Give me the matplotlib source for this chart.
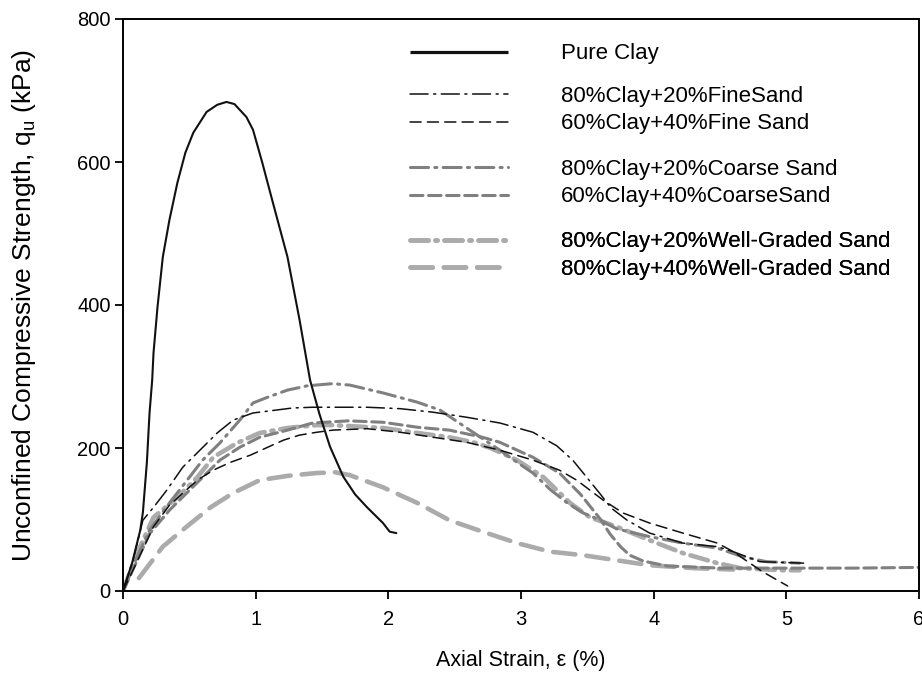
import matplotlib
matplotlib.use("Agg")
import matplotlib.pyplot as plt
from matplotlib.lines import Line2D

plt.rcParams["font.family"] = ["Liberation Sans", "DejaVu Sans"]
plt.rcParams["mathtext.default"] = "regular"
plt.rcParams["lines.scale_dashes"] = False

# --- stress-strain curves (strain %, q_u kPa) ---
pure_clay_x = [0, 0.07, 0.13, 0.15, 0.18, 0.2, 0.22, 0.23, 0.26, 0.3, 0.35, 0.41, 0.47,
               0.53, 0.63, 0.71, 0.78, 0.84, 0.93, 0.98, 1.05, 1.13, 1.24, 1.33, 1.41,
               1.48, 1.56, 1.66, 1.75, 1.84, 1.96, 2.01, 2.06]
pure_clay_y = [0, 40, 85, 110, 180, 249, 295, 333, 397, 467, 519, 571, 613,
               641, 670, 680, 684, 681, 663, 645, 599, 543, 467, 380, 295,
               248, 202, 160, 135, 117, 95, 83, 81]

fine20_x = [0, 0.075, 0.15, 0.23, 0.33, 0.45, 0.58, 0.71, 0.83, 0.98, 1.11, 1.28, 1.43,
            1.58, 1.84, 2.09, 2.34, 2.59, 2.84, 3.09, 3.27, 3.39, 3.5, 3.6, 3.68, 3.8,
            3.97, 4.22, 4.48, 4.6, 4.8, 5.13]
fine20_y = [0, 43, 99, 117, 141, 173, 197, 221, 239, 249, 252, 256, 257,
            257, 257, 255, 250, 243, 235, 222, 203, 183, 158, 135, 116, 99,
            81, 67, 62, 55, 41, 39]

fine40_x = [0, 0.075, 0.23, 0.35, 0.56, 0.68, 0.81, 0.96, 1.09, 1.21, 1.33, 1.46, 1.58,
            1.84, 2.09, 2.34, 2.59, 2.84, 3.09, 3.29, 3.42, 3.62, 3.77, 3.97, 4.22, 4.48,
            4.6, 4.67, 4.82, 5.01]
fine40_y = [0, 29, 90, 120, 155, 169, 180, 190, 201, 211, 218, 222, 225,
            227, 222, 215, 208, 197, 183, 169, 155, 127, 109, 95, 81, 67,
            55, 46, 27, 7]

coarse20_x = [0, 0.1, 0.2, 0.35, 0.6, 0.73, 0.88, 0.98, 1.09, 1.24, 1.39, 1.58, 1.71,
              1.96, 2.22, 2.39, 2.59, 2.84, 2.97, 3.09, 3.22, 3.35, 3.47, 3.6,
              3.72, 3.97, 4.22, 4.48, 4.67, 4.85, 5.1]
coarse20_y = [0, 45, 85, 123, 183, 207, 239, 263, 271, 281, 287, 290, 288,
              277, 264, 253, 228, 197, 180, 165, 142, 123, 109, 99,
              87, 76, 67, 60, 48, 41, 39]

coarse40_x = [0, 0.1, 0.2, 0.35, 0.48, 0.6, 0.73, 0.88, 1.03, 1.24, 1.43, 1.7, 1.96,
              2.22, 2.46, 2.71, 2.84, 3.09, 3.29, 3.45, 3.6, 3.67, 3.75, 3.82, 3.92,
              4.1, 4.5, 5.0, 5.5, 6.0]
coarse40_y = [0, 40, 80, 113, 137, 159, 183, 201, 215, 225, 235, 238, 236,
              229, 225, 215, 208, 187, 165, 135, 100, 80, 62, 50, 42,
              35, 32, 32, 32, 33]

well20_x = [0, 0.1, 0.23, 0.41, 0.56, 0.68, 0.86, 1.03, 1.24, 1.46, 1.58, 1.96, 2.22,
            2.46, 2.64, 2.77, 2.97, 3.17, 3.27, 3.37, 3.52, 3.72, 3.97, 4.22, 4.48,
            4.65, 4.97, 5.1]
well20_y = [0, 50, 103, 131, 159, 187, 207, 221, 228, 232, 232, 228, 221,
            215, 208, 200, 183, 159, 141, 123, 103, 90, 71, 53, 39,
            32, 29, 29]

well40_x = [0.12, 0.3, 0.48, 0.66, 0.83, 1.03, 1.24, 1.46, 1.6, 1.71, 1.96, 2.22, 2.46,
            2.71, 2.97, 3.22, 3.47, 3.72, 3.97, 4.3, 4.6]
well40_y = [18, 62, 90, 117, 137, 155, 161, 165, 166, 162, 145, 123, 99,
            83, 67, 55, 50, 43, 36, 32, 30]

labels = ["Pure Clay",
          "80%Clay+20%FineSand",
          "60%Clay+40%Fine Sand",
          "80%Clay+20%Coarse Sand",
          "60%Clay+40%CoarseSand",
          "80%Clay+20%Well-Graded Sand",
          "80%Clay+40%Well-Graded Sand"]

BLACK = "#111111"
MID = "#808080"
LIGHT = "#ababab"

# x, y, colour, linewidth, dash pattern (None = solid)
series = [
    (pure_clay_x, pure_clay_y, BLACK, 1.5, None),
    (fine20_x, fine20_y, BLACK, 1.1, (13, 4, 1.5, 4)),
    (fine40_x, fine40_y, BLACK, 1.1, (8, 4.5)),
    (coarse20_x, coarse20_y, MID, 2.2, (13, 4.5, 1.5, 4.5)),
    (coarse40_x, coarse40_y, MID, 2.2, (9, 4)),
    (well20_x, well20_y, LIGHT, 3.3, (13, 5, 1.5, 5)),
    (well40_x, well40_y, LIGHT, 3.3, (16, 8)),
]

fig = plt.figure(figsize=(9.22, 6.88), dpi=100)
ax = fig.add_axes([123 / 922, 1 - 591 / 688, 796 / 922, 572 / 688])

handles = []
# draw light curves first so the dark ones sit on top
for i in reversed(range(len(series))):
    x, y, col, lw, dash = series[i]
    ln, = ax.plot(x, y, color=col, lw=lw, solid_capstyle="round",
                  dash_capstyle="round", zorder=2 + (len(series) - i) * 0.1)
    if dash is not None:
        ln.set_dashes(dash)
for i, (x, y, col, lw, dash) in enumerate(series):
    h = Line2D([], [], color=col, lw=(2.3 if i == 0 else lw),
               solid_capstyle="butt", dash_capstyle="round")
    if dash is not None:
        h.set_dashes(dash)
    handles.append(h)

# legend in four groups with wider gaps between groups
groups = [([0], 0.939), ([1, 2], 0.841), ([3, 4], 0.713), ([5, 6], 0.586)]
for idx, yc in groups:
    leg = ax.legend([handles[k] for k in idx], [labels[k] for k in idx],
                    loc="center left", bbox_to_anchor=(0.3606, yc),
                    frameon=False, fontsize=16, handlelength=4.4,
                    handletextpad=2.4, labelspacing=0.3, borderpad=0,
                    borderaxespad=0)
    ax.add_artist(leg)

ax.set_xlim(0, 6)
ax.set_ylim(0, 800)
ax.set_xticks(range(0, 7))
ax.set_yticks(range(0, 801, 200))
for sp in ax.spines.values():
    sp.set_linewidth(1.4)
ax.tick_params(direction="out", length=6, width=1.3, labelsize=14.5)
ax.tick_params(axis="x", pad=8)
ax.tick_params(axis="y", pad=3)

ax.set_xlabel("Axial Strain, ε (%)", fontsize=15.5)
ax.set_ylabel("Unconfined Compressive Strength, q$_{u}$ (kPa)", fontsize=19)
ax.xaxis.set_label_coords(0.5, -0.103)
ax.yaxis.set_label_coords(-0.107, 0.5)

fig.savefig("out.png", dpi=100)
